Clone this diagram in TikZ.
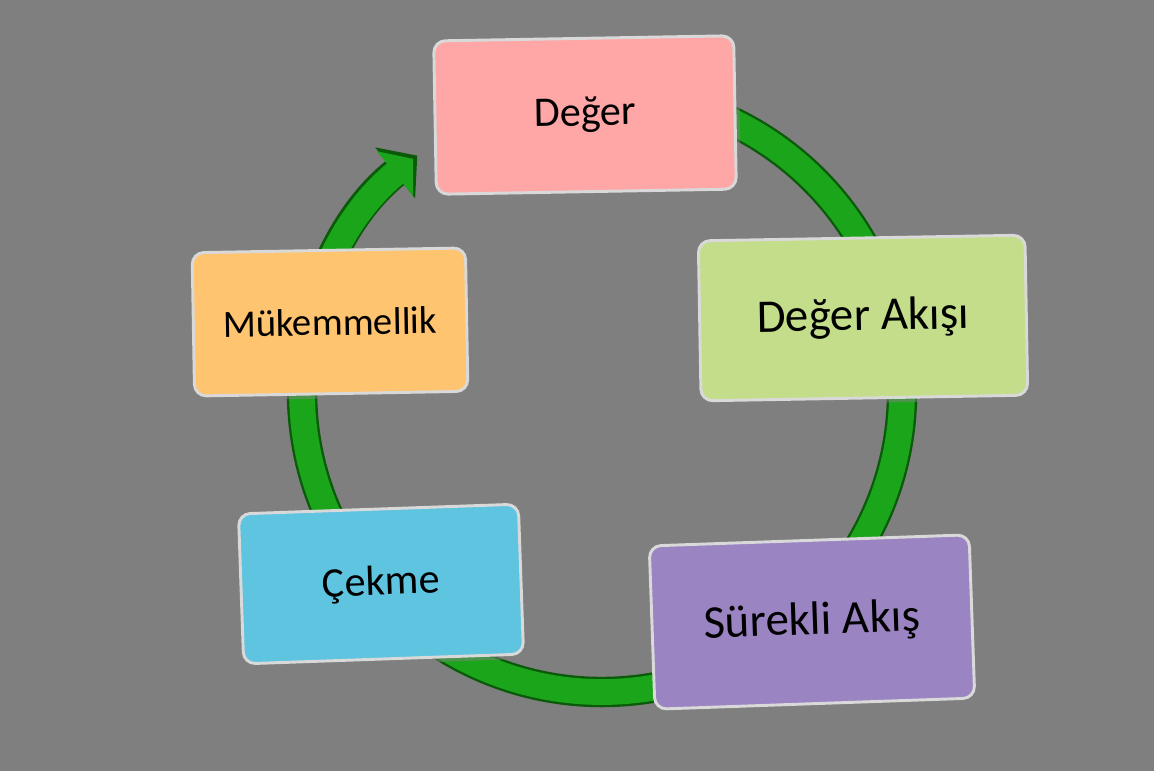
\documentclass[tikz,border=0pt]{standalone}
\usepackage{fontspec}
\setmainfont{Carlito}
\usetikzlibrary{arrows.meta,shadows}
\definecolor{bg}{HTML}{7F7F7F}
\definecolor{ring}{HTML}{1BA51B}
\definecolor{ringd}{HTML}{0A5A0A}
\definecolor{cpink}{HTML}{FFA7A7}
\definecolor{cgreen}{HTML}{C3DD8B}
\definecolor{cpurple}{HTML}{9A84C2}
\definecolor{ccyan}{HTML}{5EC4DF}
\definecolor{corange}{HTML}{FFC46F}
\tikzset{
  card/.style={draw=white!85!black, line width=2.5pt, rounded corners=10pt,
    minimum width=#1, minimum height=4.5cm, inner sep=0pt,
    drop shadow={shadow xshift=4pt, shadow yshift=-4pt, opacity=0.5}},
  card/.default=8.5cm,
  lbl/.style={font=\fontsize{36}{42}\selectfont}
}
\begin{document}
\begin{tikzpicture}[x=0.03cm,y=-0.03cm]
\fill[bg] (0,0) rectangle (1154,771);
\useasboundingbox (0,0) rectangle (1154,771);
\coordinate (c) at (602,392);
% ring
\draw[ringd, line width=26pt, -{Triangle[length=24pt,width=54pt]}]
  ([shift={(-95:300)}]c) arc[start angle=-95, end angle=232, radius=300];
\draw[ring, line width=22pt, -{Triangle[length=20pt,width=48pt]}]
  ([shift={(-95:300)}]c) arc[start angle=-95, end angle=231, radius=300];
% cards
\node[card=9cm, fill=cpink, rotate=1, minimum height=4.6cm, lbl] (v) at (585,115) {Değer};
\node[card=9.8cm, fill=cgreen, rotate=1, minimum height=4.8cm, lbl, font=\fontsize{40}{46}\selectfont] (va) at (863,318) {Değer Akışı};
\node[card=9.6cm, fill=cpurple, rotate=2, minimum height=4.9cm, font=\fontsize{40}{46}\selectfont] (fl) at (812,622) {Sürekli Akış};
\node[card=8.4cm, fill=ccyan, rotate=2, minimum height=4.5cm, lbl] (pu) at (381,584) {Çekme};
\node[card=8.2cm, fill=corange, rotate=1, minimum height=4.3cm, font=\fontsize{33}{38}\selectfont] (pe) at (330,322) {Mükemmellik};
\end{tikzpicture}
\end{document}
